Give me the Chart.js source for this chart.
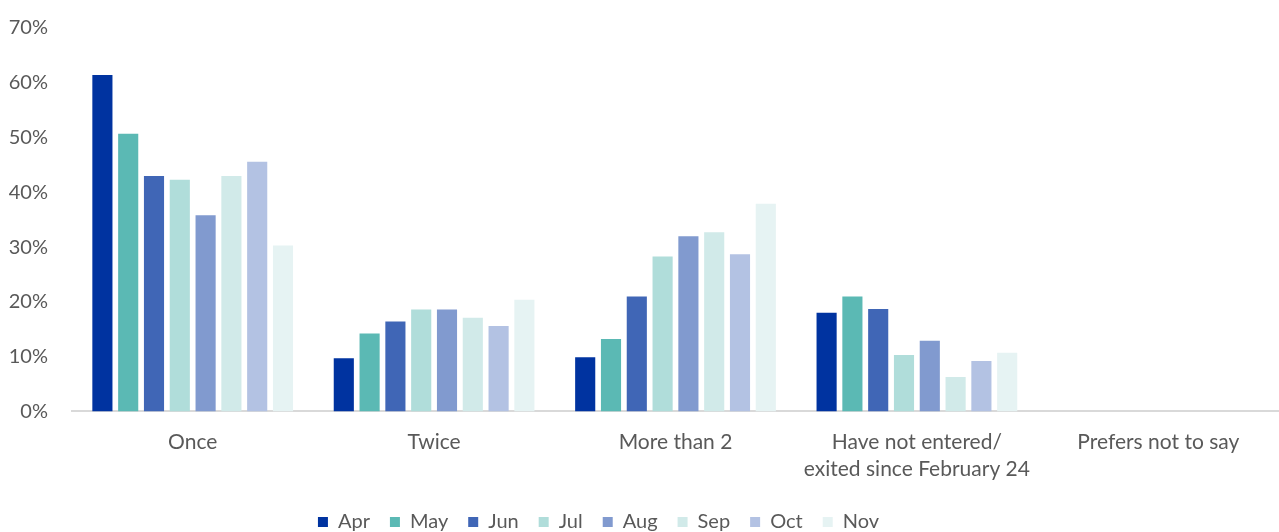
<!DOCTYPE html>
<html>
<head>
<meta charset="utf-8">
<script src="https://cdn.jsdelivr.net/npm/chart.js"></script>
<style>
  html, body { margin: 0; padding: 0; background: #fff; }
  #wrap { width: 1279px; height: 532px; position: relative; }
</style>
</head>
<body>
<div id="wrap"><canvas id="Chart"></canvas></div>
<script>
const categories = ['Once', 'Twice', 'More than 2', ['Have not entered/', 'exited since February 24'], 'Prefers not to say'];
const months = ['Apr', 'May', 'Jun', 'Jul', 'Aug', 'Sep', 'Oct', 'Nov'];

// shares in %, per category (same order as categories)
const apr = [61.4, 9.7, 9.9, 18.0, 0];
const may = [50.7, 14.2, 13.2, 21.0, 0];
const jun = [43.0, 16.4, 21.0, 18.7, 0];
const jul = [42.3, 18.6, 28.3, 10.3, 0];
const aug = [35.8, 18.6, 32.0, 12.9, 0];
const sep = [43.0, 17.1, 32.7, 6.3, 0];
const oct = [45.6, 15.6, 28.7, 9.2, 0];
const nov = [30.3, 20.4, 37.9, 10.7, 0];

const yTicks = [0, 10, 20, 30, 40, 50, 60, 70];

const seriesValues = [apr, may, jun, jul, aug, sep, oct, nov];
const colors = ['#0033a0', '#5bb9b4', '#4066b6', '#b0ddda', '#819acf', '#d1eae9', '#b3c2e3', '#e6f3f3'];

const ctx = document.getElementById('Chart').getContext('2d');
const font = "'Lato', 'Open Sans', sans-serif";

// legend: tighter box height and shifted a bit left like the original
const legendTweak = {
  id: 'legendTweak',
  beforeInit(chart) {
    const fit = chart.legend.fit;
    chart.legend.fit = function () {
      fit.bind(this)();
      this.height -= 10;
    };
  },
  afterLayout(chart) {
    chart.legend.left -= 44;
    chart.legend.right -= 44;
  }
};

new Chart(ctx, {
  type: 'bar',
  data: {
    labels: categories,
    datasets: months.map((m, i) => ({
      label: m,
      data: seriesValues[i],
      backgroundColor: colors[i],
      borderWidth: 0,
      categoryPercentage: 0.855,
      barPercentage: 0.78
    }))
  },
  plugins: [legendTweak],
  options: {
    responsive: true,
    maintainAspectRatio: false,
    animation: false,
    layout: { padding: { left: 6, right: 0, top: 4, bottom: 0 } },
    plugins: {
      tooltip: { enabled: false },
      legend: {
        position: 'bottom',
        labels: {
          font: { family: font, size: 20 },
          color: '#595959',
          boxWidth: 10,
          boxHeight: 10,
          padding: 20
        }
      }
    },
    scales: {
      x: {
        grid: { display: false },
        border: { color: '#d9d9d9', width: 2 },
        ticks: {
          font: { family: font, size: 21, lineHeight: 1.3 },
          color: '#595959',
          padding: 9,
          maxRotation: 0,
          autoSkip: false
        }
      },
      y: {
        min: 0,
        max: 70,
        grid: { display: false },
        border: { display: false },
        afterFit: axis => { axis.width = 66; },
        afterBuildTicks: axis => { axis.ticks = yTicks.map(v => ({ value: v })); },
        ticks: {
          font: { family: font, size: 20 },
          color: '#595959',
          padding: 16,
          callback: v => v + '%'
        }
      }
    }
  }
});
</script>
</body>
</html>
